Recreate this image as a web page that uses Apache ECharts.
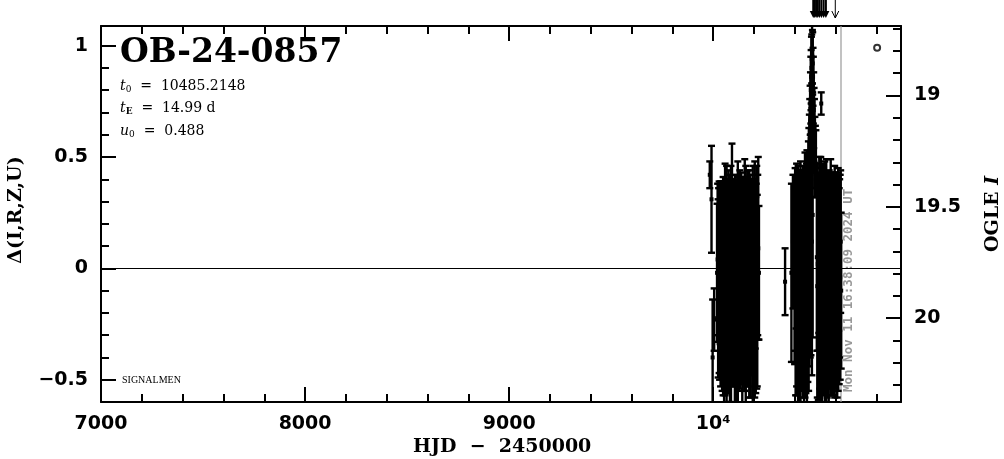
<!DOCTYPE html>
<html><head><meta charset="utf-8">
<script src="https://cdn.jsdelivr.net/npm/echarts@6/dist/echarts.min.js"></script>
<style>html,body{margin:0;padding:0;background:#fff}#c{width:1004px;height:459px}</style>
</head><body><div id="c"></div>
<script>
// ---- axis ranges & ticks ----
const xMin = 7000, xMax = 10920;
const yMin = -0.6, yMax = 1.088;
const baseMag = 19.776; // OGLE I at delta = 0
const xMajorTicks = [7000, 8000, 9000, 10000];
const xMinorTicks = [7200,7400,7600,7800,8200,8400,8600,8800,9200,9400,9600,9800,10200,10400,10600,10800];
const yMajorTicks = [-0.5, 0, 0.5, 1];
const yMinorTicks = [-0.4,-0.3,-0.2,-0.1,0.1,0.2,0.3,0.4,0.6,0.7,0.8,0.9];
const magMajorTicks = [19, 19.5, 20];
const magMinorTicks = [18.7,18.8,18.9,19.1,19.2,19.3,19.4,19.6,19.7,19.8,19.9,20.1,20.2,20.3];

// ---- photometry: [HJD-2450000, delta mag, error] ----
const season2023 = [
[9983.0,0.42,0.06],[9991.5,0.31,0.24],[9997.0,-0.40,0.26],[10004.5,-0.23,0.14],
[10018.6,-0.02,0.31],[10021.4,0.04,0.34],[10023.9,-0.09,0.40],[10026.2,0.07,0.29],
[10028.8,-0.04,0.43],[10031.1,-0.13,0.37],[10033.7,0.02,0.36],[10035.9,-0.07,0.46],
[10038.4,0.09,0.30],[10040.8,-0.03,0.41],[10043.5,-0.11,0.44],[10045.7,0.05,0.33],
[10048.3,-0.08,0.49],[10050.6,0.01,0.38],[10053.2,-0.16,0.45],[10055.8,0.07,0.32],
[10058.1,-0.05,0.52],[10060.7,-0.10,0.36],[10062.9,0.11,0.28],[10065.4,-0.07,0.53],
[10067.6,0.00,0.39],[10070.3,-0.14,0.42],[10072.5,0.04,0.35],[10074.8,-0.06,0.50],
[10077.4,0.08,0.31],[10079.6,-0.02,0.44],[10082.1,-0.12,0.48],[10084.5,0.03,0.37],
[10086.9,-0.09,0.55],[10089.2,0.06,0.33],[10091.8,0.17,0.39],[10094.0,-0.04,0.41],
[10096.5,-0.13,0.40],[10098.7,0.02,0.36],[10101.3,-0.07,0.46],[10103.6,0.09,0.29],
[10106.0,-0.10,0.52],[10108.4,-0.01,0.38],[10110.9,0.05,0.34],[10113.2,-0.15,0.47],
[10115.7,-0.03,0.43],[10118.1,0.07,0.30],[10120.4,-0.08,0.56],[10122.9,0.01,0.40],
[10125.3,-0.11,0.44],[10127.6,0.04,0.35],[10130.2,-0.05,0.49],[10132.5,0.10,0.31],
[10135.0,-0.09,0.42],[10137.4,-0.02,0.45],[10139.8,0.06,0.33],[10142.3,-0.12,0.50],
[10144.7,0.00,0.37],[10147.2,-0.06,0.46],[10149.5,0.08,0.32],[10152.1,-0.14,0.41],
[10154.4,-0.03,0.52],[10156.9,0.05,0.35],[10159.3,-0.08,0.54],[10161.8,0.02,0.39],
[10164.2,-0.10,0.43],[10166.6,0.07,0.30],[10169.1,-0.04,0.48],[10171.5,-0.13,0.40],
[10174.0,0.03,0.36],[10176.4,-0.07,0.51],[10178.9,0.09,0.31],[10181.3,-0.02,0.44],
[10183.8,-0.11,0.47],[10186.2,0.04,0.34],[10188.7,-0.06,0.42],[10191.1,0.06,0.33],
[10193.6,-0.09,0.55],[10196.0,-0.01,0.40],[10198.5,-0.15,0.48],[10201.0,0.05,0.35],
[10203.4,-0.05,0.53],[10205.9,0.02,0.38],[10208.3,-0.12,0.44],[10210.8,0.08,0.30],
[10213.2,-0.04,0.50],[10215.7,-0.10,0.43],[10218.1,0.06,0.36],[10220.6,0.09,0.41],
[10224.0,-0.02,0.30]
];
const season2024 = [
[10352.0,-0.06,0.15],[10383.0,-0.02,0.40],[10390.5,0.12,0.30],
[10398.5,-0.05,0.38],[10401.2,0.04,0.41],[10403.6,-0.10,0.47],[10405.9,0.07,0.34],
[10408.4,-0.03,0.50],[10410.8,-0.12,0.45],[10413.1,0.05,0.39],[10415.7,-0.07,0.53],
[10418.0,0.10,0.33],[10420.4,-0.02,0.46],[10422.9,-0.14,0.49],[10425.3,0.03,0.40],
[10427.6,-0.08,0.56],[10430.2,0.06,0.37],[10432.5,-0.04,0.48],[10434.9,-0.11,0.44],
[10437.4,0.08,0.35],[10439.8,-0.06,0.52],[10442.1,0.02,0.42],[10444.6,-0.13,0.50],
[10447.0,0.05,0.38],[10449.5,-0.03,0.55],[10451.8,0.11,0.33],[10454.2,-0.09,0.47],
[10456.7,0.04,0.43],[10459.0,-0.05,0.58],[10461.5,0.14,0.32],[10463.8,-0.02,0.49],
[10466.2,0.22,0.35],[10467.5,-0.05,0.50],[10468.5,0.35,0.28],[10470.9,0.47,0.22],
[10471.6,0.02,0.46],[10472.8,0.58,0.18],[10474.6,0.66,0.16],[10475.2,0.10,0.50],
[10476.3,0.74,0.14],[10478.0,0.80,0.15],[10478.9,0.16,0.55],[10479.6,0.86,0.12],
[10481.2,0.90,0.14],[10482.8,0.94,0.11],[10483.4,0.12,0.60],[10484.3,0.96,0.13],
[10485.9,0.95,0.12],[10487.1,0.24,0.55],[10487.4,0.92,0.14],[10489.0,0.86,0.13],
[10490.6,0.80,0.15],[10492.3,0.71,0.17],
[10494.1,0.62,0.19],[10496.0,0.56,0.20],[10498.2,0.50,0.18],[10500.5,0.48,0.16],
[10503.0,0.47,0.15],
[10507.5,0.05,0.42],[10509.8,-0.08,0.50],[10512.2,0.02,0.39],[10514.7,-0.12,0.47],
[10517.1,0.07,0.36],[10519.6,-0.04,0.54],[10522.0,-0.10,0.44],[10524.5,0.04,0.41],
[10526.9,-0.07,0.57],[10529.2,0.74,0.05],[10531.6,0.01,0.45],[10534.0,-0.13,0.49],
[10536.5,0.06,0.37],[10538.9,-0.05,0.52],[10541.3,-0.09,0.43],[10543.8,0.09,0.34],
[10546.2,-0.02,0.50],[10548.7,-0.14,0.46],[10551.1,0.03,0.40],[10553.6,-0.06,0.55],
[10556.0,0.07,0.35],[10558.4,-0.10,0.48],[10560.9,-0.01,0.44],[10563.3,0.05,0.38],
[10565.8,-0.12,0.51],[10568.2,0.02,0.42],[10570.7,-0.07,0.47],[10573.1,0.08,0.33],
[10575.6,-0.04,0.53],[10578.0,-0.11,0.41],[10580.4,0.04,0.39],[10582.9,-0.08,0.49],
[10585.3,0.06,0.36],[10587.8,-0.03,0.46],[10590.2,-0.13,0.44],[10592.7,0.03,0.40],
[10595.1,-0.06,0.52],[10597.6,0.08,0.34],[10600.0,-0.09,0.45],[10602.5,-0.02,0.43],
[10604.9,0.05,0.37],[10607.4,-0.11,0.47],[10609.8,0.02,0.41],[10612.3,-0.05,0.50],
[10614.7,0.07,0.35],[10617.2,-0.08,0.44],[10619.6,0.00,0.40],[10622.1,-0.04,0.46],
[10624.5,0.12,0.32],[10627.0,-0.10,0.35]
];
// points above the plotted range (drawn as arrows)
const offscaleHjd  = [10490, 10497, 10504, 10512, 10520, 10530, 10541, 10552];
const offscaleDmag = [1.30, 1.45, 1.25, 1.60, 1.35, 1.50, 1.22, 1.40];
const offscaleLowHjd  = [10598];
const offscaleLowDmag = [1.20];
const markerPoint = [[10803, 0.99]];
const nowHjd = 10626;
const nowLabel = 'Mon Nov 11 16:38:09 2024 UT';

const eventName = 'OB-24-0857';
const t0Text = '10485.2148';
const tEText = '14.99 d';
const u0Text = '0.488';

const chart = echarts.init(document.getElementById('c'), null, {renderer: 'canvas'});
const TICK = {color: '#000', width: 2};
const LABEL_FONT = {color: '#000', fontFamily: 'DejaVu Sans', fontWeight: 'bold', fontSize: 19};

function xAx(pos, ticks, len, labels, line) {
  return {type: 'value', min: xMin, max: xMax, position: pos,
    axisLine: {show: line, onZero: false, lineStyle: {color: '#000', width: 2}},
    axisTick: {show: true, inside: true, length: len, lineStyle: TICK, customValues: ticks},
    axisLabel: labels ? Object.assign({customValues: ticks, margin: 13,
      formatter: v => v === 10000 ? '10⁴' : String(v)}, LABEL_FONT) : {show: false},
    splitLine: {show: false}};
}
function yAx(pos, mn, mx, inv, ticks, len, labels, line, fmt) {
  return {type: 'value', min: mn, max: mx, position: pos, inverse: inv,
    axisLine: {show: line, onZero: false, lineStyle: {color: '#000', width: 2}},
    axisTick: {show: true, inside: true, length: len, lineStyle: TICK, customValues: ticks},
    axisLabel: labels ? Object.assign({customValues: ticks, margin: 13, formatter: fmt}, LABEL_FONT) : {show: false},
    splitLine: {show: false}};
}
const fmtDelta = v => v < 0 ? '−' + String(Math.abs(v)) : String(v);
const fmtMag = v => String(v);
const magMin = +(baseMag - yMax).toFixed(4), magMax = +(baseMag - yMin).toFixed(4);

function renderErr(params, api) {
  const x = api.value(0), y = api.value(1), e = api.value(2);
  const c = api.coord([x, y]);
  const t = api.coord([x, y + e])[1];
  const b = api.coord([x, y - e])[1];
  const st = {stroke: '#000', lineWidth: 2.4};
  return {type: 'group', children: [
    {type: 'line', shape: {x1: c[0], y1: t, x2: c[0], y2: b}, style: st},
    {type: 'line', shape: {x1: c[0] - 3.5, y1: t, x2: c[0] + 3.5, y2: t}, style: st},
    {type: 'line', shape: {x1: c[0] - 3.5, y1: b, x2: c[0] + 3.5, y2: b}, style: st},
    {type: 'rect', shape: {x: c[0] - 2, y: c[1] - 2, width: 4, height: 4}, style: {fill: '#000'}}
  ]};
}
function renderArrow(params, api) {
  const p = api.coord([api.value(0), yMax]);
  return {type: 'group', children: [
    {type: 'line', shape: {x1: p[0], y1: p[1] - 26, x2: p[0], y2: p[1] - 13}, style: {stroke: '#000', lineWidth: 2}},
    {type: 'polygon', shape: {points: [[p[0] - 3.5, p[1] - 15], [p[0] + 3.5, p[1] - 15], [p[0], p[1] - 8]]}, style: {fill: '#000'}}
  ]};
}
function renderThinArrow(params, api) {
  const p = api.coord([api.value(0), yMax]);
  const st = {stroke: '#000', lineWidth: 1, fill: null};
  return {type: 'group', children: [
    {type: 'line', shape: {x1: p[0], y1: p[1] - 26, x2: p[0], y2: p[1] - 8}, style: st},
    {type: 'polyline', shape: {points: [[p[0] - 3.5, p[1] - 15], [p[0], p[1] - 8], [p[0] + 3.5, p[1] - 15]]}, style: st}
  ]};
}
function renderNow(params, api) {
  const x = api.value(0);
  const p0 = api.coord([x, yMin]), p1 = api.coord([x, yMax]);
  return {type: 'group', children: [
    {type: 'line', shape: {x1: p0[0], y1: p0[1], x2: p1[0], y2: p1[1]}, style: {stroke: '#999', lineWidth: 1.2}},
    {type: 'text', x: p0[0] + 8, y: p0[1] - 10, rotation: Math.PI / 2,
      style: {text: nowLabel, fill: '#999', font: 'bold 12.5px "DejaVu Sans Mono"', align: 'left', verticalAlign: 'middle'}}
  ]};
}

const serif = '"DejaVu Serif"';
const paramRich = {
  i: {fontFamily: serif, fontStyle: 'italic', fontSize: 14, color: '#000'},
  s: {fontFamily: serif, fontSize: 9, color: '#000', padding: [8, 0, 0, 0]},
  sb: {fontFamily: serif, fontWeight: 'bold', fontSize: 9, color: '#000', padding: [8, 0, 0, 0]},
  n: {fontFamily: serif, fontSize: 14, color: '#000'}
};

const option = {
  animation: false,
  backgroundColor: '#fff',
  grid: {left: 101, right: 103, top: 26, bottom: 57, containLabel: false},
  xAxis: [
    xAx('bottom', xMajorTicks, 15, true, true),
    xAx('bottom', xMinorTicks, 8, false, false),
    xAx('top', xMajorTicks, 15, false, true),
    xAx('top', xMinorTicks, 8, false, false)
  ],
  yAxis: [
    yAx('left', yMin, yMax, false, yMajorTicks, 15, true, true, fmtDelta),
    yAx('left', yMin, yMax, false, yMinorTicks, 8, false, false),
    yAx('right', magMin, magMax, true, magMajorTicks, 15, true, true, fmtMag),
    yAx('right', magMin, magMax, true, magMinorTicks, 8, false, false)
  ],
  series: [
    {type: 'custom', name: 'zero', xAxisIndex: 0, yAxisIndex: 0, data: [], silent: true,
      renderItem: () => null,
      markLine: {silent: true, symbol: 'none', label: {show: false},
        lineStyle: {color: '#000', width: 1, type: 'solid'}, data: [{yAxis: 0}]}},
    {type: 'custom', name: 'now', xAxisIndex: 0, yAxisIndex: 0, clip: false, silent: true,
      data: [[nowHjd]], renderItem: renderNow},
    {type: 'custom', name: 'OGLE 2023', xAxisIndex: 0, yAxisIndex: 0, clip: true, silent: true,
      data: season2023, encode: {x: 0, y: 1}, renderItem: renderErr},
    {type: 'custom', name: 'OGLE 2024', xAxisIndex: 0, yAxisIndex: 0, clip: true, silent: true,
      data: season2024, encode: {x: 0, y: 1}, renderItem: renderErr},
    {type: 'custom', name: 'offscale', xAxisIndex: 0, yAxisIndex: 0, clip: false, silent: true,
      data: offscaleHjd.map((h, i) => [h, offscaleDmag[i]]), renderItem: renderArrow},
    {type: 'custom', name: 'offscale2', xAxisIndex: 0, yAxisIndex: 0, clip: false, silent: true,
      data: offscaleLowHjd.map((h, i) => [h, offscaleLowDmag[i]]), renderItem: renderThinArrow},
    {type: 'scatter', name: 'marker', xAxisIndex: 0, yAxisIndex: 0, data: markerPoint,
      symbol: 'circle', symbolSize: 6, silent: true,
      itemStyle: {color: '#fff', borderColor: '#000', borderWidth: 2}}
  ],
  graphic: [
    {type: 'text', left: 120, top: 37, style: {text: eventName, font: 'bold 33px "DejaVu Serif"', fill: '#000'}},
    {type: 'text', left: 120, top: 79, style: {text: '{i|t}{s|0}{n|  =  ' + t0Text + '}', rich: paramRich}},
    {type: 'text', left: 120, top: 101, style: {text: '{i|t}{sb|E}{n|  =  ' + tEText + '}', rich: paramRich}},
    {type: 'text', left: 120, top: 124, style: {text: '{i|u}{s|0}{n|  =  ' + u0Text + '}', rich: paramRich}},
    {type: 'text', left: 122, top: 375, style: {text: 'SIGNALMEN', font: '10px "Liberation Serif"', fill: '#000'}},
    {type: 'text', left: 413, top: 438, style: {text: 'HJD  −  2450000', font: 'bold 19px "DejaVu Serif"', fill: '#000'}},
    {type: 'text', x: 16, y: 210, rotation: Math.PI / 2,
      style: {text: 'Δ(I,R,Z,U)', font: 'bold 19px "DejaVu Serif"', fill: '#000', align: 'center', verticalAlign: 'middle'}},
    {type: 'text', x: 993, y: 214, rotation: Math.PI / 2,
      style: {text: '{a|OGLE }{b|I}', align: 'center', verticalAlign: 'middle',
        rich: {a: {font: 'bold 19px "DejaVu Serif"', fill: '#000', color: '#000'},
               b: {font: 'bold italic 19px "DejaVu Serif"', fill: '#000', color: '#000'}}}}
  ]
};
chart.setOption(option);
</script>
</body></html>
